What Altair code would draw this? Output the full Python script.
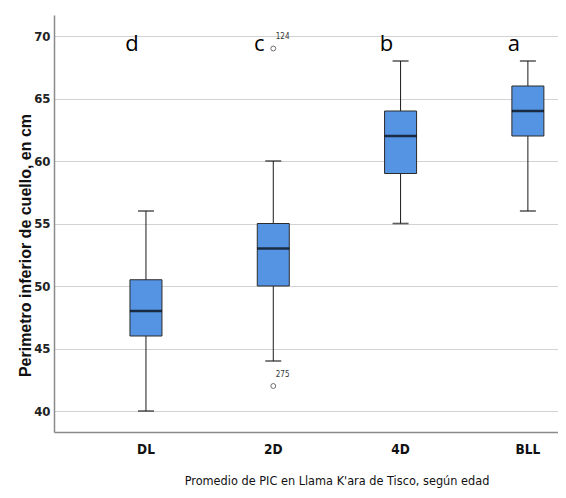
import altair as alt
import pandas as pd

groups = ["DL", "2D", "4D", "BLL"]
lower_whisker = [40, 44, 55, 56]
q1 = [46, 50, 59, 62]
median = [48, 53, 62, 64]
q3 = [50.5, 55, 64, 66]
upper_whisker = [56, 60, 68, 68]
letters = ["d", "c", "b", "a"]
letter_level = [68.8, 68.8, 68.8, 68.8]

outlier_group = ["2D", "2D"]
outlier_value = [69, 42]
outlier_id = ["124", "275"]

box_df = pd.DataFrame({"grupo": groups, "lo": lower_whisker, "q1": q1,
                       "med": median, "q3": q3, "hi": upper_whisker})
let_df = pd.DataFrame({"grupo": groups, "letra": letters, "nivel": letter_level})
out_df = pd.DataFrame({"grupo": outlier_group, "valor": outlier_value, "id": outlier_id})

NARROW = "Liberation Sans Narrow, Arial Narrow, DejaVu Sans Condensed, sans-serif"

xscale = alt.Scale(domain=groups, paddingInner=0.8, paddingOuter=0.3795, align=0.82)
yscale = alt.Scale(domain=[38.32, 71.68], nice=False, zero=False)

xaxis = alt.Axis(
    title="Promedio de PIC en Llama K'ara de Tisco, según edad",
    titleFont=NARROW, titleFontSize=12.6, titleFontWeight="normal", titleColor="#111",
    titleX=282.5, titleY=52, titleAlign="center", titleBaseline="alphabetic", titleAnchor="start",
    labelFont=NARROW, labelFontSize=13.5, labelFontWeight="bold", labelColor="#111",
    labelPadding=10, labelAngle=0, ticks=False, grid=False,
    domainColor="#8a8a8a", domainWidth=1.5,
)
yaxis = alt.Axis(
    title="Perimetro inferior de cuello, en cm",
    titleFont="Liberation Sans, Arial, sans-serif", titleFontSize=16, titleFontWeight="bold",
    titleColor="#111", titleX=-24, titleY=230, titleAngle=270, titleBaseline="alphabetic",
    titleAlign="center", titleAnchor="start",
    values=[40, 45, 50, 55, 60, 65, 70],
    labelFont=NARROW, labelFontSize=13, labelFontWeight="bold", labelColor="#222",
    labelPadding=4, ticks=False, grid=True, gridColor="#d2d2d2", gridWidth=1.2,
    domainColor="#8a8a8a", domainWidth=1.5,
)

X = alt.X("grupo:N", scale=xscale, axis=xaxis, sort=groups)
base = alt.Chart(box_df)

whisk = base.mark_rule(color="#1a1a1a", strokeWidth=1).encode(
    x=X, y=alt.Y("lo:Q", scale=yscale, axis=yaxis), y2="hi:Q")
box = base.mark_bar(size=32, color="#5594e3", stroke="#2b2b2b", strokeWidth=1).encode(
    x=X, y=alt.Y("q1:Q", scale=yscale, axis=yaxis), y2="q3:Q")
med = base.mark_tick(size=32, thickness=2.6, color="#000").encode(
    x=X, y=alt.Y("med:Q", scale=yscale, axis=yaxis))
cap_lo = base.mark_tick(size=16, thickness=1.6, color="#1a1a1a").encode(
    x=X, y=alt.Y("lo:Q", scale=yscale, axis=yaxis))
cap_hi = base.mark_tick(size=16, thickness=1.6, color="#1a1a1a").encode(
    x=X, y=alt.Y("hi:Q", scale=yscale, axis=yaxis))

outs = alt.Chart(out_df).mark_point(shape="circle", size=24, filled=False,
                                   color="#333", strokeWidth=1).encode(
    x=X, y=alt.Y("valor:Q", scale=yscale, axis=yaxis))
out_lbl = alt.Chart(out_df).mark_text(font=NARROW, fontSize=8, color="#333",
                                      align="left", baseline="middle", dx=2.5, dy=-11.5).encode(
    x=X, y=alt.Y("valor:Q", scale=yscale, axis=yaxis), text="id:N")

let = alt.Chart(let_df).mark_text(font="Open Sans, Lato, sans-serif", fontSize=22,
                                  color="#000", align="center", baseline="alphabetic",
                                  dx=-14).encode(
    x=X, y=alt.Y("nivel:Q", scale=yscale, axis=yaxis), text="letra:N")

chart = alt.layer(whisk, box, med, cap_lo, cap_hi, outs, out_lbl, let).properties(
    width=504, height=417,
    autosize=alt.AutoSizeParams(type="none"),
    padding={"left": 46, "top": 7, "right": 0, "bottom": 60},
    background="white",
).configure_view(stroke=None)

chart.save("out.html", embed_options={"renderer": "svg", "actions": False})
